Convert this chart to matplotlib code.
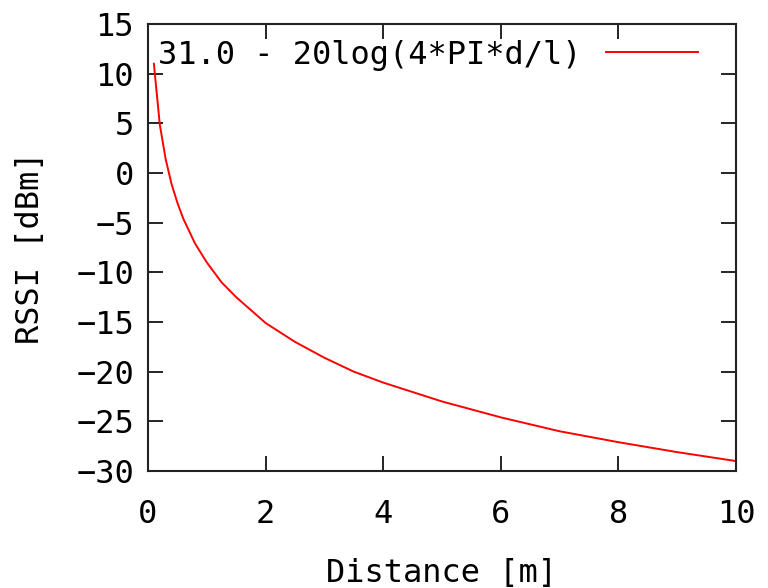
import matplotlib
matplotlib.use("Agg")
import matplotlib.pyplot as plt

# values
distance_m = [0.1, 0.2, 0.3, 0.4, 0.5, 0.6, 0.8, 1.0, 1.25, 1.5, 2.0, 2.5,
              3.0, 3.5, 4.0, 5.0, 6.0, 7.0, 8.0, 9.0, 10.0]
rssi_dbm = [11.0, 4.9, 1.4, -1.1, -3.0, -4.6, -7.1, -9.0, -11.0, -12.5, -15.1,
            -17.0, -18.6, -20.0, -21.1, -23.0, -24.6, -26.0, -27.1, -28.1, -29.0]
series_label = "31.0 - 20log(4*PI*d/l)"
x_ticks = [0, 2, 4, 6, 8, 10]
y_ticks = [15, 10, 5, 0, -5, -10, -15, -20, -25, -30]

plt.rcParams['font.family'] = ['DejaVu Sans Mono']
FS = 23

fig = plt.figure(figsize=(7.68, 5.88), dpi=100)
ax = fig.add_axes([148/768, 1 - 471/588, (736 - 148)/768, (471 - 24)/588])

ax.plot(distance_m, rssi_dbm, color='red', linewidth=1.4, label=series_label)

ax.set_xlim(0, 10)
ax.set_ylim(-30, 15)
ax.set_xticks(x_ticks)
ax.set_yticks(y_ticks)
ax.tick_params(direction='in', length=11, width=1.2, top=True, right=True,
               labelsize=FS, colors='black')
ax.tick_params(axis='x', pad=20)
ax.tick_params(axis='y', pad=10)
for s in ax.spines.values():
    s.set_linewidth(1.5)
    s.set_color('#222222')

ax.set_xlabel("Distance [m]", fontsize=FS, labelpad=20)
ax.set_ylabel("RSSI [dBm]", fontsize=FS, labelpad=22)

leg = ax.legend(loc='upper right', bbox_to_anchor=(697/736 - 0.012, 0.965),
                markerfirst=False, frameon=False, fontsize=FS,
                handlelength=2.88, handletextpad=0.75, borderpad=0, borderaxespad=0)

fig.savefig("out.png", dpi=100)
